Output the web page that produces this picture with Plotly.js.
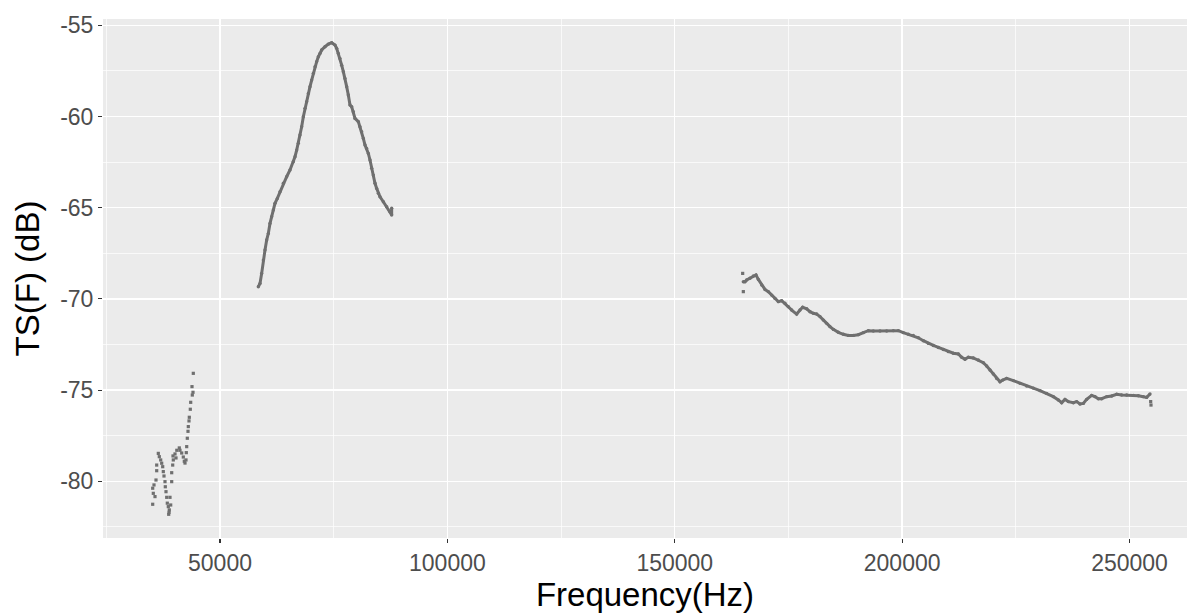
<!DOCTYPE html>
<html>
<head>
<meta charset="utf-8">
<script src="https://cdn.plot.ly/plotly-3.0.1.min.js"></script>
<style>html,body{margin:0;padding:0;background:#fff;}#chart{width:1187px;height:613px;}</style>
</head>
<body>
<div id="chart"></div>
<script>
// Low-frequency band (scattered points)
const freqA = [35200,35200,35332,35486,35706,35926,36080,36080,36432,36652,36960,37180,37400,37532,37686,37906,37972,38126,38280,38412,38632,38851,38720,38800,39005,39159,39379,39379,39599,39731,39665,40104,40324,40500,41050,41200,41578,41930,42304,42150,42523,42589,42677,42809,42963,43029,43183,43249,43469,43557,43909,44063,43843,44128];
const tsA = [-81.26,-80.38,-80.66,-80.20,-80.84,-79.93,-79.42,-79.11,-78.47,-78.65,-78.83,-79.01,-79.20,-79.47,-79.71,-80.02,-80.30,-80.57,-80.88,-81.20,-81.39,-81.57,-81.81,-81.70,-80.88,-81.30,-80.02,-79.53,-79.11,-78.83,-78.61,-78.50,-78.72,-78.30,-78.17,-78.30,-78.45,-78.67,-79.00,-78.90,-78.83,-78.43,-78.10,-77.64,-77.26,-77.00,-76.69,-76.49,-76.05,-75.67,-75.27,-75.12,-74.81,-74.08];

// Mid band (peak)
const freqB = [58429,58796,59163,59529,59896,60262,60628,60995,61362,61728,62094,62607,63194,63926,64660,65393,66126,66492,66860,67225,67592,67959,68325,68692,69058,69424,69791,70158,70524,70890,71257,71623,71990,72357,73090,73822,74556,75288,75656,76021,76388,76755,77120,77488,77854,78220,78587,78954,79320,79686,80419,80786,81153,81519,81886,82252,82618,82985,83352,83718,84085,84452,84817,85184,85917,86650,87383,87750,87750];
const tsB = [-69.33,-69.15,-68.60,-67.87,-67.32,-66.77,-66.41,-65.86,-65.49,-65.13,-64.76,-64.49,-64.12,-63.66,-63.30,-62.93,-62.48,-62.20,-61.84,-61.47,-61.01,-60.56,-60.01,-59.55,-59.19,-58.73,-58.36,-58.00,-57.63,-57.27,-56.99,-56.72,-56.54,-56.35,-56.17,-56.03,-55.95,-56.08,-56.26,-56.54,-56.81,-57.18,-57.54,-57.91,-58.36,-58.82,-59.37,-59.46,-59.74,-60.10,-60.28,-60.56,-60.83,-61.20,-61.56,-61.75,-62.02,-62.38,-62.84,-63.21,-63.66,-63.94,-64.21,-64.40,-64.67,-64.94,-65.22,-65.40,-65.03];

// High band
const freqC = [165081,165448,165814,166547,167280,167866,168380,169113,169846,170579,171312,172045,172778,173511,174244,174977,175710,176809,177542,178128,179008,179741,180474,181207,181940,182673,183406,184139,184872,185972,187071,188171,189270,190370,191469,192569,193668,195134,196600,198066,199166,200265,201365,202464,203564,204663,205763,206862,207962,209061,210161,211260,212360,213093,213826,214559,215658,216758,217857,218590,219323,220056,220789,221522,222108,222988,224454,225920,227386,228852,230318,231784,233250,234350,235083,235816,236549,237648,238381,239114,239847,240580,241680,242413,243146,243879,244978,246078,247177,248277,249376,250842,251942,253041,253774,254507];
const tsC = [-69.06,-69.06,-68.96,-68.87,-68.74,-68.69,-68.93,-69.24,-69.48,-69.60,-69.79,-69.97,-70.15,-70.10,-70.24,-70.43,-70.61,-70.83,-70.61,-70.46,-70.54,-70.70,-70.79,-70.83,-70.97,-71.16,-71.34,-71.52,-71.67,-71.83,-71.94,-72.00,-72.00,-71.96,-71.85,-71.74,-71.76,-71.76,-71.76,-71.74,-71.74,-71.85,-71.94,-72.00,-72.13,-72.29,-72.44,-72.55,-72.66,-72.77,-72.89,-72.98,-73.02,-73.20,-73.31,-73.20,-73.24,-73.35,-73.50,-73.68,-73.90,-74.12,-74.36,-74.54,-74.45,-74.36,-74.48,-74.63,-74.78,-74.89,-75.03,-75.18,-75.36,-75.54,-75.69,-75.51,-75.63,-75.69,-75.63,-75.76,-75.73,-75.51,-75.29,-75.36,-75.47,-75.47,-75.36,-75.32,-75.23,-75.27,-75.27,-75.29,-75.31,-75.36,-75.40,-75.21];
const freqCstray = [164934,165081,254654,254727];
const tsCstray = [-68.60,-69.60,-75.63,-75.82];

const xTickVals = [50000,100000,150000,200000,250000];
const xTickText = ['50000','100000','150000','200000','250000'];
const yTickVals = [-80,-75,-70,-65,-60,-55];
const yTickText = ['-80','-75','-70','-65','-60','-55'];

const col = '#6f6f6f';
const traces = [
  {x: freqA, y: tsA, type: 'scatter', mode: 'markers', marker: {color: col, size: 3.2, symbol: 'square'}},
  {x: freqB, y: tsB, type: 'scatter', mode: 'lines+markers', line: {color: col, width: 3}, marker: {color: col, size: 3.4}},
  {x: freqC, y: tsC, type: 'scatter', mode: 'lines+markers', line: {color: col, width: 3}, marker: {color: col, size: 3.4}},
  {x: freqCstray, y: tsCstray, type: 'scatter', mode: 'markers', marker: {color: col, size: 3.2, symbol: 'square'}}
];

const layout = {
  width: 1187, height: 613,
  showlegend: false,
  paper_bgcolor: '#ffffff',
  plot_bgcolor: '#EBEBEB',
  margin: {l: 103, r: 0, t: 19, b: 75, pad: 0},
  font: {family: '"Liberation Sans", Arial, sans-serif', color: '#4D4D4D'},
  xaxis: {
    range: [24272, 262643],
    tickmode: 'array', tickvals: xTickVals, ticktext: xTickText,
    tickfont: {size: 23, color: '#4D4D4D'},
    ticks: 'outside', ticklen: 4, tickwidth: 1.1, tickcolor: '#333333',
    showgrid: true, gridcolor: '#ffffff', gridwidth: 1.4,
    minor: {tickvals: [25000,75000,125000,175000,225000], showgrid: true, gridcolor: '#ffffff', gridwidth: 0.7, ticks: ''},
    zeroline: false, showline: false,
    title: {text: 'Frequency(Hz)', font: {size: 33, color: '#000000'}, standoff: 4},
    automargin: false
  },
  yaxis: {
    range: [-83.11, -54.65],
    tickmode: 'array', tickvals: yTickVals, ticktext: yTickText,
    tickfont: {size: 23, color: '#4D4D4D'},
    ticks: 'outside', ticklen: 4, tickwidth: 1.1, tickcolor: '#333333',
    showgrid: true, gridcolor: '#ffffff', gridwidth: 1.4,
    minor: {tickvals: [-82.5,-77.5,-72.5,-67.5,-62.5,-57.5], showgrid: true, gridcolor: '#ffffff', gridwidth: 0.7, ticks: ''},
    zeroline: false, showline: false,
    title: {text: 'TS(F) (dB)', font: {size: 33, color: '#000000'}, standoff: 10},
    automargin: false
  }
};

Plotly.newPlot('chart', traces, layout, {displayModeBar: false, staticPlot: true});
</script>
</body>
</html>
